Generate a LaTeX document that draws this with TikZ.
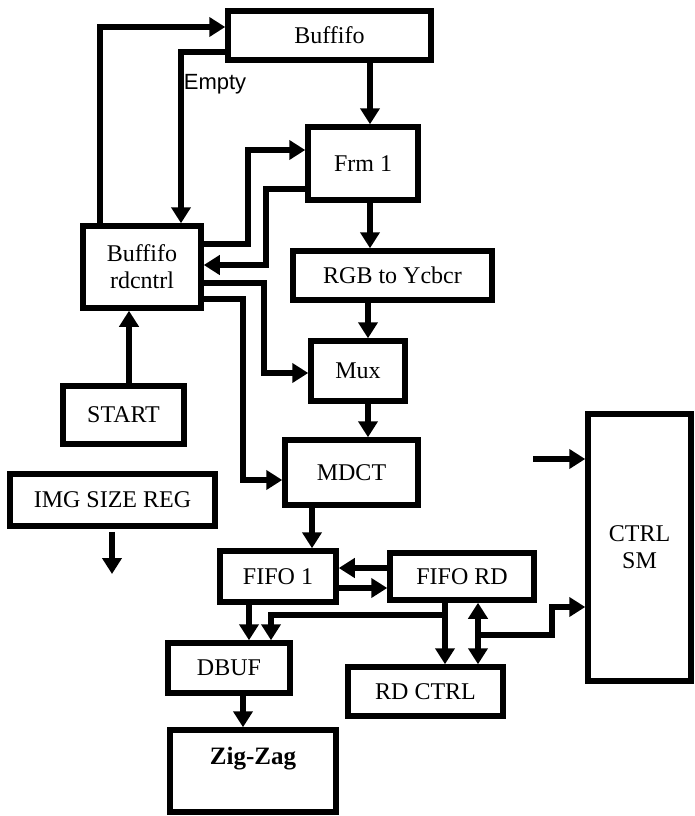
\documentclass[tikz,border=0pt]{standalone}
\usepackage{fontspec}
\setmainfont{Liberation Serif}
\newfontfamily\labelfont{Liberation Sans}
\usepackage{tikz}
\usetikzlibrary{arrows.meta, positioning, calc}

\begin{document}
\begin{tikzpicture}[x=1pt, y=-1pt,
  blk/.style={rectangle, draw=black, line width=5.5pt, fill=white, inner sep=0pt,
              font=\fontsize{24}{27}\selectfont, align=center},
  arr/.style={-{Triangle[length=16pt, width=19pt]}, line width=6pt, black},
  darr/.style={{Triangle[length=16pt, width=19pt]}-{Triangle[length=16pt, width=19pt]}, line width=6pt, black},
]
  \useasboundingbox[fill=white] (0,0) rectangle (694,816);

  \node[blk, minimum width=203pt, minimum height=49pt] (buf) at (329.5,35.5) {Buffifo};
  \node[blk, minimum width=110pt, minimum height=73pt] (frm) at (363,163.5) {Frm 1};
  \node[blk, minimum width=118pt, minimum height=82pt] (rdc) at (142,267) {Buffifo\\rdcntrl};
  \node[blk, minimum width=199pt, minimum height=49pt] (rgb) at (392.5,275.5) {RGB to Ycbcr};
  \node[blk, minimum width=94pt, minimum height=60pt] (mux) at (358,371) {Mux};
  \node[blk, minimum width=133pt, minimum height=65pt] (mdct) at (351.5,472.5) {MDCT};
  \node[blk, minimum width=121pt, minimum height=58pt] (start) at (123.5,415) {START};
  \node[blk, minimum width=205pt, minimum height=52pt] (img) at (112.5,500) {IMG SIZE REG};
  \node[blk, minimum width=116pt, minimum height=51pt] (fifo1) at (278,576.5) {FIFO 1};
  \node[blk, minimum width=144pt, minimum height=47pt] (fiford) at (462,576.5) {FIFO RD};
  \node[blk, minimum width=103pt, minimum height=267pt] (ctrl) at (639.5,547.5) {CTRL\\SM};
  \node[blk, minimum width=155pt, minimum height=49pt] (rdctrl) at (425.5,691.5) {RD CTRL};
  \node[blk, minimum width=122pt, minimum height=50pt] (dbuf) at (229,668) {DBUF};
  \node[blk, minimum width=166pt, minimum height=82pt, text depth=30pt,
        font=\fontsize{25}{28}\selectfont\bfseries] (zz) at (253,771) {Zig-Zag};

  % buffifo read control loop
  \draw[arr] (rdc.north -| 100,0) |- (buf.west |- 0,27);
  \draw[arr] (buf.west |- 0,52) -| (rdc.north -| 181,0);
  \node[font=\labelfont\fontsize{22}{26}\selectfont, inner sep=0pt] (empty) at (215,84) {Empty};

  % data path
  \draw[arr] (buf.south -| 370,0) -- (frm.north -| 370,0);
  \draw[arr] (frm.south -| 370,0) -- (rgb.north -| 370,0);
  \draw[arr] (rgb.south -| 368,0) -- (mux.north -| 368,0);
  \draw[arr] (mux.south -| 368,0) -- (mdct.north -| 368,0);
  \draw[arr] (mdct.south -| 312,0) -- (fifo1.north -| 312,0);
  \draw[arr] (fifo1.south -| 249,0) -- (dbuf.north -| 249,0);
  \draw[arr] (dbuf.south -| 243,0) -- (zz.north -| 243,0);

  % control lines from rdcntrl
  \draw[arr] (rdc.east |- 0,244) -- (248,244) |- (frm.west |- 0,150);
  \draw[arr] (frm.west |- 0,189) -- (266,189) |- (rdc.east |- 0,265);
  \draw[arr] (rdc.east |- 0,283) -- (264,283) |- (mux.west |- 0,373);
  \draw[arr] (rdc.east |- 0,299) -- (243,299) |- (mdct.west |- 0,480);
  \draw[arr] (start.north -| 129,0) -- (rdc.south -| 129,0);

  % fifo read side
  \draw[arr] (fiford.west |- 0,568) -- (fifo1.east |- 0,568);
  \draw[arr] (fifo1.east |- 0,588) -- (fiford.west |- 0,588);
  \draw[arr] (fiford.south -| 445,0) -- (rdctrl.north -| 445,0);
  \coordinate (split) at (445,615);
  \draw[arr] (split) -| (dbuf.north -| 271,0);
  \draw[darr] (fiford.south -| 478,0) -- (rdctrl.north -| 478,0);
  \draw[arr] (478,635) -- (552,635) |- (ctrl.west |- 0,607);

  % loose ends
  \coordinate (imgout) at (112,574);
  \draw[arr, shorten <=3pt] (img.south -| imgout) -- (imgout);
  \coordinate (ctrlin) at (533,459);
  \draw[arr] (ctrlin) -- (ctrl.west |- ctrlin);
\end{tikzpicture}
\end{document}
